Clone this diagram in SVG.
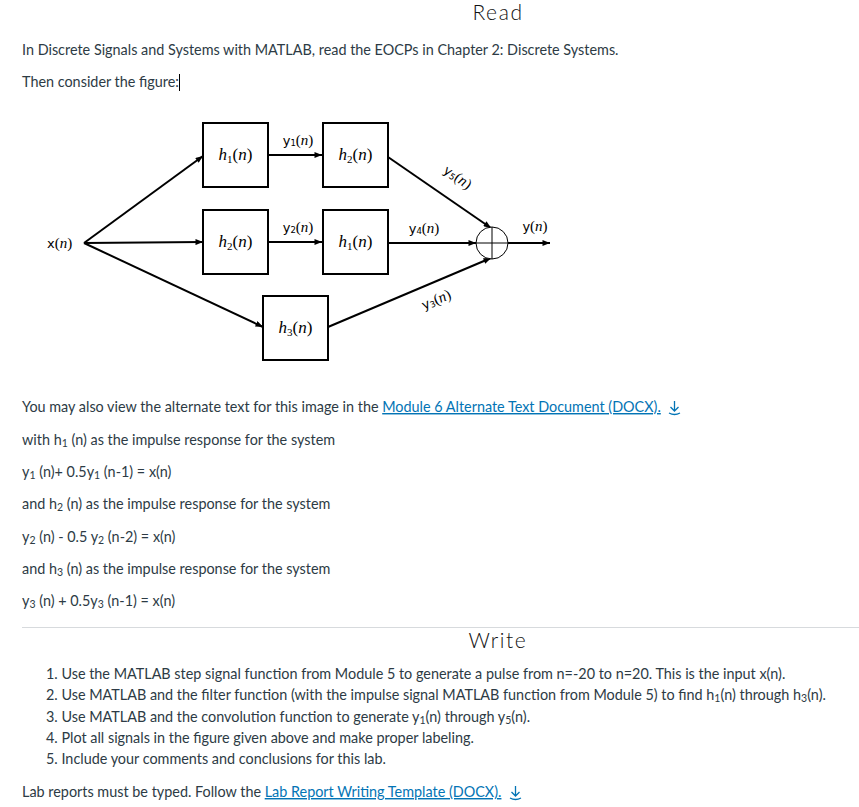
<svg xmlns="http://www.w3.org/2000/svg" width="859" height="807" viewBox="0 0 859 807">
<style>
.body{font-family:Lato,"Liberation Sans",sans-serif;font-size:14.4px;fill:#2d3b45}
.head{font-family:Lato,"Liberation Sans",sans-serif;font-size:21px;fill:#111;font-weight:300;text-anchor:middle;letter-spacing:1.6px}
.link{fill:#0374b5;text-decoration:underline}
.sub{font-size:10.5px}
.box{fill:#fff;stroke:#000;stroke-width:2}
.conn{stroke:#000;stroke-width:2;fill:none}
.math{font-family:"Liberation Serif","DejaVu Serif",serif;font-size:17px;fill:#000;font-style:italic}
.up{font-style:normal}
.lbl{font-family:"Liberation Serif","DejaVu Serif",serif;font-size:15px;fill:#000}
.ss{font-family:"DejaVu Sans","Liberation Sans",sans-serif;font-size:13px}
.lsub{font-family:"DejaVu Sans","Liberation Sans",sans-serif;font-size:8.5px}
.msub{font-size:11px}
.it{font-style:italic}
.icon{stroke:#0374b5;stroke-width:1.3;fill:none}
</style>
<defs>
<marker id="ah" viewBox="0 0 10 8" refX="10" refY="4" markerWidth="8" markerHeight="6" markerUnits="userSpaceOnUse" orient="auto">
<path d="M0,0 L10,4 L0,8 Z" fill="#000"/>
</marker>
</defs>
<rect width="859" height="807" fill="#fff"/>

<text class="head" x="498" y="20">Read</text>
<text class="body" x="22" y="55">In Discrete Signals and Systems with MATLAB, read the EOCPs in Chapter 2: Discrete Systems.</text>
<text class="body" x="22" y="87">Then consider the figure:</text>
<line x1="179.5" y1="74" x2="179.5" y2="91" stroke="#000" stroke-width="1"/>

<g id="connectors">
<line class="conn" x1="84" y1="243" x2="203" y2="156" marker-end="url(#ah)"/>
<line class="conn" x1="84" y1="243" x2="203" y2="242" marker-end="url(#ah)"/>
<line class="conn" x1="84" y1="243" x2="263" y2="327" marker-end="url(#ah)"/>
<line class="conn" x1="269" y1="155" x2="322" y2="155" marker-end="url(#ah)"/>
<line class="conn" x1="269" y1="242" x2="322" y2="242" marker-end="url(#ah)"/>
<line class="conn" x1="388" y1="157" x2="491" y2="228" marker-end="url(#ah)"/>
<line class="conn" x1="388" y1="243" x2="476" y2="243" marker-end="url(#ah)"/>
<line class="conn" x1="328" y1="327" x2="491" y2="258" marker-end="url(#ah)"/>
<line class="conn" x1="508" y1="243" x2="550" y2="243" marker-end="url(#ah)"/>
<text class="lbl" x="298" y="145" text-anchor="middle"><tspan class="ss">y</tspan><tspan class="lsub" dy="1">1</tspan><tspan dy="-1">(</tspan><tspan class="it">n</tspan>)</text>
<text class="lbl" x="298" y="232" text-anchor="middle"><tspan class="ss">y</tspan><tspan class="lsub" dy="1">2</tspan><tspan dy="-1">(</tspan><tspan class="it">n</tspan>)</text>
<text class="lbl" x="424" y="233" text-anchor="middle"><tspan class="ss">y</tspan><tspan class="lsub" dy="1">4</tspan><tspan dy="-1">(</tspan><tspan class="it">n</tspan>)</text>
<text class="lbl" x="535" y="231" text-anchor="middle"><tspan class="ss">y</tspan>(<tspan class="it">n</tspan>)</text>
<text class="lbl" x="0" y="0" text-anchor="middle" transform="translate(455,181) rotate(35)"><tspan class="ss">y</tspan><tspan class="lsub" dy="1">5</tspan><tspan dy="-1">(</tspan><tspan class="it">n</tspan>)</text>
<text class="lbl" x="0" y="0" text-anchor="middle" transform="translate(438,304) rotate(-23)"><tspan class="ss">y</tspan><tspan class="lsub" dy="1">3</tspan><tspan dy="-1">(</tspan><tspan class="it">n</tspan>)</text>
</g>

<g id="x_in"><text class="lbl" x="47" y="248"><tspan class="ss">x</tspan>(<tspan class="it">n</tspan>)</text></g>

<g id="h1_top"><rect class="box" x="203" y="123" width="65" height="64"/>
<text class="math" x="235.5" y="160" text-anchor="middle">h<tspan class="up msub" dy="3">1</tspan><tspan class="up" dy="-3">(</tspan>n<tspan class="up">)</tspan></text></g>
<g id="h2_top"><rect class="box" x="323" y="123" width="65" height="64"/>
<text class="math" x="355.5" y="160" text-anchor="middle">h<tspan class="up msub" dy="3">2</tspan><tspan class="up" dy="-3">(</tspan>n<tspan class="up">)</tspan></text></g>
<g id="h2_mid"><rect class="box" x="203" y="210" width="65" height="64"/>
<text class="math" x="235.5" y="247" text-anchor="middle">h<tspan class="up msub" dy="3">2</tspan><tspan class="up" dy="-3">(</tspan>n<tspan class="up">)</tspan></text></g>
<g id="h1_mid"><rect class="box" x="323" y="210" width="65" height="64"/>
<text class="math" x="355.5" y="247" text-anchor="middle">h<tspan class="up msub" dy="3">1</tspan><tspan class="up" dy="-3">(</tspan>n<tspan class="up">)</tspan></text></g>
<g id="h3"><rect class="box" x="263" y="296" width="65" height="64"/>
<text class="math" x="295.5" y="333" text-anchor="middle">h<tspan class="up msub" dy="3">3</tspan><tspan class="up" dy="-3">(</tspan>n<tspan class="up">)</tspan></text></g>
<g id="sum"><circle cx="492" cy="243" r="16" fill="#fff" stroke="#000" stroke-width="1"/>
<line x1="476" y1="243" x2="508" y2="243" stroke="#000" stroke-width="1"/>
<line x1="492" y1="227" x2="492" y2="259" stroke="#000" stroke-width="1"/></g>

<text class="body" x="22" y="412">You may also view the alternate text for this image in the <tspan class="link">Module 6 Alternate Text Document (DOCX).</tspan></text>
<path class="icon" d="M674.5,401 V411 M670.5,407 L674.5,411 L678.5,407 M669,413 Q674.5,416 680,413"/>
<text class="body" x="22" y="445">with h<tspan class="sub" dy="2">1</tspan><tspan dy="-2"> (n) as the impulse response for the system</tspan></text>
<text class="body" x="22" y="477">y<tspan class="sub" dy="2">1</tspan><tspan dy="-2"> (n)+ 0.5y</tspan><tspan class="sub" dy="2">1</tspan><tspan dy="-2"> (n-1) = x(n)</tspan></text>
<text class="body" x="22" y="509">and h<tspan class="sub" dy="2">2</tspan><tspan dy="-2"> (n) as the impulse response for the system</tspan></text>
<text class="body" x="22" y="542">y<tspan class="sub" dy="2">2</tspan><tspan dy="-2"> (n) - 0.5 y</tspan><tspan class="sub" dy="2">2</tspan><tspan dy="-2"> (n-2) = x(n)</tspan></text>
<text class="body" x="22" y="574">and h<tspan class="sub" dy="2">3</tspan><tspan dy="-2"> (n) as the impulse response for the system</tspan></text>
<text class="body" x="22" y="606">y<tspan class="sub" dy="2">3</tspan><tspan dy="-2"> (n) + 0.5y</tspan><tspan class="sub" dy="2">3</tspan><tspan dy="-2"> (n-1) = x(n)</tspan></text>

<line x1="22" y1="627.5" x2="859" y2="627.5" stroke="#d7dadd" stroke-width="1"/>
<text class="head" x="498" y="648">Write</text>
<text class="body" x="46" y="679">1. Use the MATLAB step signal function from Module 5 to generate a pulse from n=-20 to n=20. This is the input x(n).</text>
<text class="body" x="46" y="700">2. Use MATLAB and the filter function (with the impulse signal MATLAB function from Module 5) to find h<tspan class="sub" dy="2">1</tspan><tspan dy="-2">(n) through h</tspan><tspan class="sub" dy="2">3</tspan><tspan dy="-2">(n).</tspan></text>
<text class="body" x="46" y="722">3. Use MATLAB and the convolution function to generate y<tspan class="sub" dy="2">1</tspan><tspan dy="-2">(n) through y</tspan><tspan class="sub" dy="2">5</tspan><tspan dy="-2">(n).</tspan></text>
<text class="body" x="46" y="743">4. Plot all signals in the figure given above and make proper labeling.</text>
<text class="body" x="46" y="764">5. Include your comments and conclusions for this lab.</text>
<text class="body" x="22" y="797">Lab reports must be typed. Follow the <tspan class="link">Lab Report Writing Template (DOCX).</tspan></text>
<path class="icon" d="M515.5,786 V796 M511.5,792 L515.5,796 L519.5,792 M510,798 Q515.5,801 521,798"/>
</svg>
